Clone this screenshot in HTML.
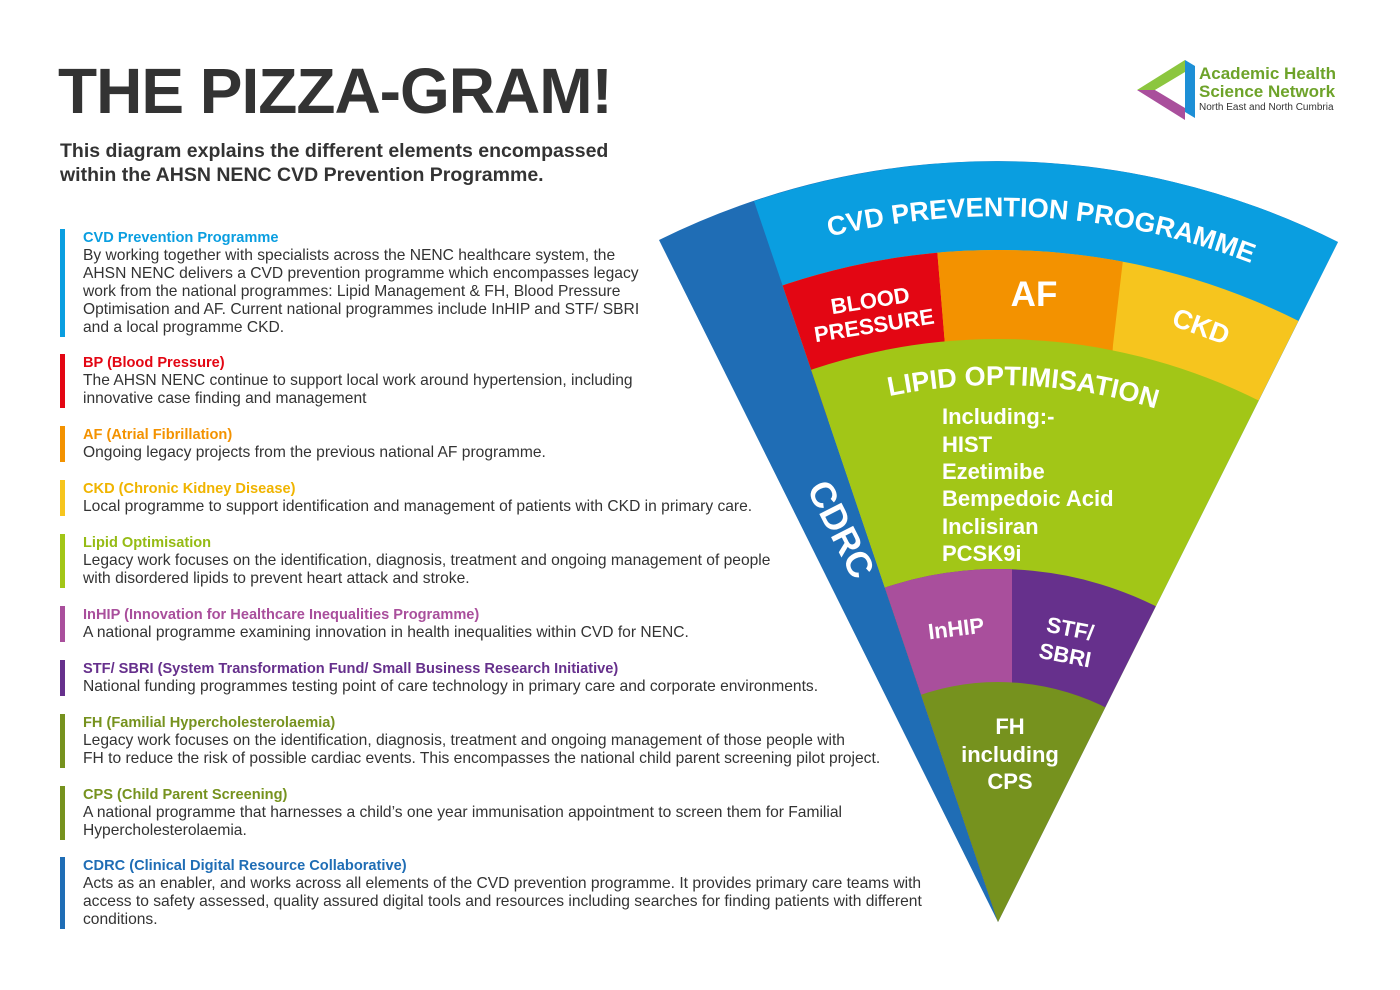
<!DOCTYPE html>
<html><head><meta charset="utf-8">
<style>
html,body{margin:0;width:1400px;height:990px;overflow:hidden}
body{background:#fff;position:relative;font-family:"Liberation Sans",sans-serif;color:#333}
.t{position:absolute;left:58px;top:54px;font-size:64px;font-weight:bold;color:#333;letter-spacing:-1px}
.sub{position:absolute;left:60px;top:139px;font-size:19.5px;font-weight:bold;line-height:24px;color:#333}
.e{position:absolute;left:60px;border-left:5px solid;padding-left:18px;font-size:15.6px;line-height:18px;white-space:nowrap}
.e b{display:block;font-size:14.6px}
</style></head><body>
<div class="t">THE PIZZA-GRAM!</div>
<div class="sub">This diagram explains the different elements encompassed<br>within the AHSN NENC CVD Prevention Programme.</div>

<div class="e" style="top:229px;border-color:#0a9ee0"><b style="color:#0a9ee0">CVD Prevention Programme</b>By working together with specialists across the NENC healthcare system, the<br>AHSN NENC delivers a CVD prevention programme which encompasses legacy<br>work from the national programmes: Lipid Management &amp; FH, Blood Pressure<br>Optimisation and AF. Current national programmes include InHIP and STF/ SBRI<br>and a local programme CKD.</div>
<div class="e" style="top:354px;border-color:#e30613"><b style="color:#e30613">BP (Blood Pressure)</b>The AHSN NENC continue to support local work around hypertension, including<br>innovative case finding and management</div>
<div class="e" style="top:426px;border-color:#f39200"><b style="color:#f39200">AF (Atrial Fibrillation)</b>Ongoing legacy projects from the previous national AF programme.</div>
<div class="e" style="top:480px;border-color:#f6c51e"><b style="color:#f0b400">CKD (Chronic Kidney Disease)</b>Local programme to support identification and management of patients with CKD in primary care.</div>
<div class="e" style="top:534px;border-color:#a2c617"><b style="color:#95bb14">Lipid Optimisation</b>Legacy work focuses on the identification, diagnosis, treatment and ongoing management of people<br>with disordered lipids to prevent heart attack and stroke.</div>
<div class="e" style="top:606px;border-color:#a94f9c"><b style="color:#a94f9c">InHIP (Innovation for Healthcare Inequalities Programme)</b>A national programme examining innovation in health inequalities within CVD for NENC.</div>
<div class="e" style="top:660px;border-color:#66308c"><b style="color:#66308c">STF/ SBRI (System Transformation Fund/ Small Business Research Initiative)</b>National funding programmes testing point of care technology in primary care and corporate environments.</div>
<div class="e" style="top:714px;border-color:#76921e"><b style="color:#76921e">FH (Familial Hypercholesterolaemia)</b>Legacy work focuses on the identification, diagnosis, treatment and ongoing management of those people with<br>FH to reduce the risk of possible cardiac events. This encompasses the national child parent screening pilot project.</div>
<div class="e" style="top:786px;border-color:#76921e"><b style="color:#76921e">CPS (Child Parent Screening)</b>A national programme that harnesses a child’s one year immunisation appointment to screen them for Familial<br>Hypercholesterolaemia.</div>
<div class="e" style="top:857px;border-color:#1f6db5"><b style="color:#1f6db5">CDRC (Clinical Digital Resource Collaborative)</b>Acts as an enabler, and works across all elements of the CVD prevention programme. It provides primary care teams with<br>access to safety assessed, quality assured digital tools and resources including searches for finding patients with different<br>conditions.</div>

<svg style="position:absolute;left:1135px;top:58px" width="60" height="62" viewBox="0 0 60 62">
<polygon points="2,32 50,2 50,14 20,32" fill="#8cc63f"/>
<polygon points="50,2 60,8 60,60 50,54" fill="#1d8fd6"/>
<polygon points="2,32 20,32 50,50 50,62 " fill="#a94f9c"/>
<polygon points="20,32 38,22 38,42" fill="#fff"/>
</svg>
<div style="position:absolute;left:1199px;top:65px;color:#6ea32a;font-size:17px;font-weight:bold;line-height:18px">Academic Health<br>Science Network</div>
<div style="position:absolute;left:1199px;top:102px;color:#333;font-size:10px">North East and North Cumbria</div>

<svg style="position:absolute;left:0;top:0;display:block" width="1400" height="990" viewBox="0 0 1400 990">
<defs>
<clipPath id="sec"><path d="M998,922 L659,240 A761 761 0 0 1 1338,242 Z"/></clipPath>
<clipPath id="inr"><path d="M998,922 L754,201 A761 761 0 0 1 1338,242 Z"/></clipPath>
<clipPath id="c672"><circle cx="998" cy="922" r="672"/></clipPath>
<clipPath id="c353"><circle cx="998" cy="922" r="353"/></clipPath>
<path id="pcvd" d="M292,922 A706 706 0 0 1 1704,922"/>
<path id="plip" d="M461,922 A537 537 0 0 1 1535,922"/>
</defs>
<g clip-path="url(#sec)">
<rect x="600" y="100" width="800" height="850" fill="#1f6db5"/>
<g clip-path="url(#inr)">
<circle cx="998" cy="922" r="761" fill="#0a9ee0"/>
<circle cx="998" cy="922" r="672" fill="#f6c51e"/>
<g clip-path="url(#c672)">
<polygon points="600,200 933,200 945,345 950,420 600,420" fill="#e30613"/>
<polygon points="933,200 1130,200 1113,345 1108,420 945,420 945,345" fill="#f39200"/>
</g>
<circle cx="998" cy="922" r="583" fill="#a2c617"/>
<circle cx="998" cy="922" r="353" fill="#66308c"/>
<g clip-path="url(#c353)"><rect x="800" y="500" width="212" height="300" fill="#a94f9c"/></g>
<circle cx="998" cy="922" r="240" fill="#76921e"/>
</g>
</g>
<g font-family="Liberation Sans, sans-serif" font-weight="bold" fill="#fff">
<text font-size="27" text-anchor="middle"><textPath href="#pcvd" startOffset="52%">CVD PREVENTION PROGRAMME</textPath></text>
<text font-size="27" text-anchor="middle"><textPath href="#plip" startOffset="51.5%">LIPID OPTIMISATION</textPath></text>
<g transform="translate(872,312) rotate(-9)" font-size="22" text-anchor="middle"><text y="-4">BLOOD</text><text y="21">PRESSURE</text></g>
<text x="1034" y="306" font-size="35" text-anchor="middle">AF</text>
<text transform="translate(1198,335) rotate(20)" font-size="27" text-anchor="middle">CKD</text>
<g font-size="22"><text x="942" y="424">Including:-</text><text x="942" y="452">HIST</text><text x="942" y="479">Ezetimibe</text><text x="942" y="506">Bempedoic Acid</text><text x="942" y="534">Inclisiran</text><text x="942" y="561">PCSK9i</text></g>
<text transform="translate(957,636) rotate(-7)" font-size="22" text-anchor="middle">InHIP</text>
<g transform="translate(1068,640) rotate(11)" font-size="22" text-anchor="middle"><text y="-4">STF/</text><text y="23">SBRI</text></g>
<g font-size="22" text-anchor="middle"><text x="1010" y="734">FH</text><text x="1010" y="762">including</text><text x="1010" y="789">CPS</text></g>
<text transform="translate(830,535) rotate(63)" font-size="36" text-anchor="middle">CDRC</text>
</g>
</svg>
</body></html>
